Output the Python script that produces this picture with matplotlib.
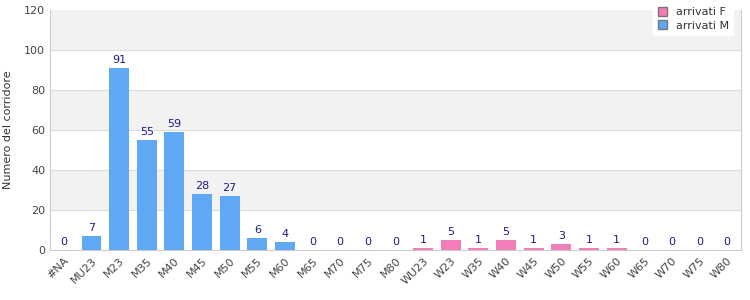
import numpy as np
import matplotlib.pyplot as plt
from matplotlib.patches import Patch

categorie = ["#NA", "MU23", "M23", "M35", "M40", "M45", "M50", "M55", "M60",
             "M65", "M70", "M75", "M80", "WU23", "W23", "W35", "W40", "W45",
             "W50", "W55", "W60", "W65", "W70", "W75", "W80"]
arrivati_m = [0, 7, 91, 55, 59, 28, 27, 6, 4, 0, 0, 0, 0,
              0, 0, 0, 0, 0, 0, 0, 0, 0, 0, 0, 0]
arrivati_f = [0, 0, 0, 0, 0, 0, 0, 0, 0, 0, 0, 0, 0,
              1, 5, 1, 5, 1, 3, 1, 1, 0, 0, 0, 0]

col_m = "#5fa8f3"
col_f = "#f27db8"
col_lab = "#1c1c86"

fig = plt.figure(figsize=(7.5, 3), dpi=100)
ax = fig.add_axes([0.0667, 0.1667, 0.9213, 0.80])

x = np.arange(len(categorie))
m = np.array(arrivati_m)
f = np.array(arrivati_f)

# fasce alternate
for i, y0 in enumerate(range(0, 120, 20)):
    if i % 2 == 1:
        ax.axhspan(y0, y0 + 20, color="#f2f2f2", zorder=0, lw=0)
for y0 in range(20, 120, 20):
    ax.axhline(y0, color="#dddddd", lw=0.8, zorder=1)

ax.bar(x, m, width=0.72, color=col_m, zorder=2)
ax.bar(x, f, width=0.72, color=col_f, zorder=2)

tot = m + f
for xi, v in zip(x, tot):
    ax.text(xi, v + 1.5, str(v), ha="center", va="bottom", fontsize=8, color=col_lab)

ax.set_xlim(-0.5, len(categorie) - 0.5)
ax.set_ylim(0, 120)
ax.set_yticks(range(0, 121, 20))
ax.set_xticks(x)
ax.set_xticklabels(categorie, rotation=45, ha="right", rotation_mode="anchor")
ax.tick_params(axis="both", length=0, labelsize=8, colors="#444444")
ax.tick_params(axis="x", pad=4)
ax.set_ylabel("Numero del corridore", fontsize=8, color="#333333", labelpad=8)
for s in ["left", "bottom", "right"]:
    ax.spines[s].set_color("#cccccc")
ax.spines["top"].set_visible(False)

handles = [Patch(facecolor=col_f, edgecolor="#777777", label="arrivati F"),
           Patch(facecolor=col_m, edgecolor="#777777", label="arrivati M")]
leg = fig.legend(handles=handles, loc="upper right", bbox_to_anchor=(0.985, 1.01),
                 fontsize=8, frameon=True, fancybox=False, framealpha=1,
                 handlelength=0.8, handleheight=0.8, borderpad=0.4, labelspacing=0.3)
leg.get_frame().set_edgecolor("white")
for t in leg.get_texts():
    t.set_color("#333333")

fig.savefig("out.png", dpi=100)
